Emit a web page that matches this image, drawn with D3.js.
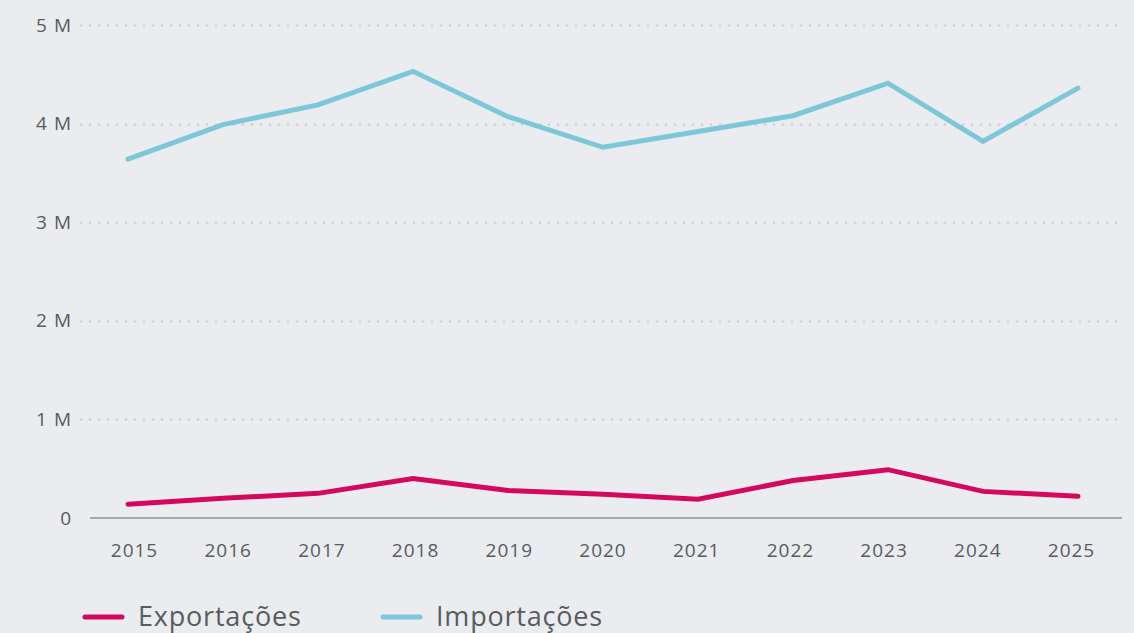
<!DOCTYPE html>
<html>
<head>
<meta charset="utf-8">
<script src="https://cdn.jsdelivr.net/npm/d3@7"></script>
<style>
  html, body { margin: 0; padding: 0; background: #ebecf0; }
  svg { display: block; font-family: "Open Sans", sans-serif; }
</style>
</head>
<body>
<div id="chart"></div>
<script>
// values
var years = ["2015", "2016", "2017", "2018", "2019", "2020", "2021", "2022", "2023", "2024", "2025"];
var exportacoes = [140000, 200000, 250000, 400000, 280000, 240000, 190000, 380000, 490000, 270000, 220000];
var importacoes = [3640000, 3990000, 4190000, 4530000, 4070000, 3760000, 3920000, 4080000, 4410000, 3820000, 4360000];
var yTicks = [0, 1000000, 2000000, 3000000, 4000000, 5000000];
var seriesNames = ["Exportações", "Importações"];
var seriesColors = ["#d4095e", "#7cc8d8"];

var w = 1134, h = 633;
var textColor = "#565c61";

var svg = d3.select("#chart").append("svg")
    .attr("width", w)
    .attr("height", h);

var y = d3.scaleLinear().domain([0, 5000000]).range([518, 25]);
// the line points and the year labels sit on slightly different spacing
var x = d3.scalePoint().domain(years).range([128, 1078]);
var xLabel = d3.scalePoint().domain(years).range([134, 1071]);

// dotted grid lines
svg.append("g").selectAll("line")
    .data(yTicks.filter(d => d > 0))
    .enter().append("line")
    .attr("x1", 81)
    .attr("x2", 1122)
    .attr("y1", d => Math.round(y(d)) + 0.5)
    .attr("y2", d => Math.round(y(d)) + 0.5)
    .attr("stroke", "#d3d4d8")
    .attr("stroke-width", 3)
    .attr("stroke-linecap", "round")
    .attr("stroke-dasharray", "0,9");

// base line
svg.append("line")
    .attr("x1", 90).attr("x2", 1122)
    .attr("y1", y(0)).attr("y2", y(0))
    .attr("stroke", "#a9aaae")
    .attr("stroke-width", 2);

// y tick labels
var yAxis = d3.axisLeft(y)
    .tickValues(yTicks)
    .tickSize(0)
    .tickPadding(0)
    .tickFormat(d => d === 0 ? "0" : (d / 1000000) + " M");
var gy = svg.append("g").attr("transform", "translate(72,0)").call(yAxis);
gy.select(".domain").remove();
gy.selectAll("text")
    .attr("fill", textColor)
    .attr("font-size", 19)
    .attr("letter-spacing", 1)
    .attr("font-family", "Open Sans, sans-serif");

// x tick labels
var xAxis = d3.axisBottom(xLabel).tickSize(0).tickPadding(0);
var gx = svg.append("g").attr("transform", "translate(0,543)").call(xAxis);
gx.select(".domain").remove();
gx.selectAll("text")
    .attr("fill", textColor)
    .attr("font-size", 19)
    .attr("letter-spacing", 1)
    .attr("font-family", "Open Sans, sans-serif");

// lines
var line = d3.line()
    .x((d, i) => x(years[i]))
    .y(d => y(d));

[exportacoes, importacoes].forEach(function (vals, i) {
    svg.append("path")
        .datum(vals)
        .attr("d", line)
        .attr("fill", "none")
        .attr("stroke", seriesColors[i])
        .attr("stroke-width", 5)
        .attr("stroke-linecap", "round")
        .attr("stroke-linejoin", "miter");
});

// legend
var legendX = [83, 381];
var legend = svg.append("g").selectAll("g")
    .data(seriesNames)
    .enter().append("g")
    .attr("transform", (d, i) => "translate(" + legendX[i] + ",617)");

legend.append("line")
    .attr("x1", 2).attr("x2", 39)
    .attr("y1", 0).attr("y2", 0)
    .attr("stroke", (d, i) => seriesColors[i])
    .attr("stroke-width", 5)
    .attr("stroke-linecap", "round");

legend.append("text")
    .attr("x", 55)
    .attr("y", 9)
    .attr("fill", textColor)
    .attr("font-size", 27)
    .attr("letter-spacing", 0.8)
    .text(d => d);
</script>
</body>
</html>
